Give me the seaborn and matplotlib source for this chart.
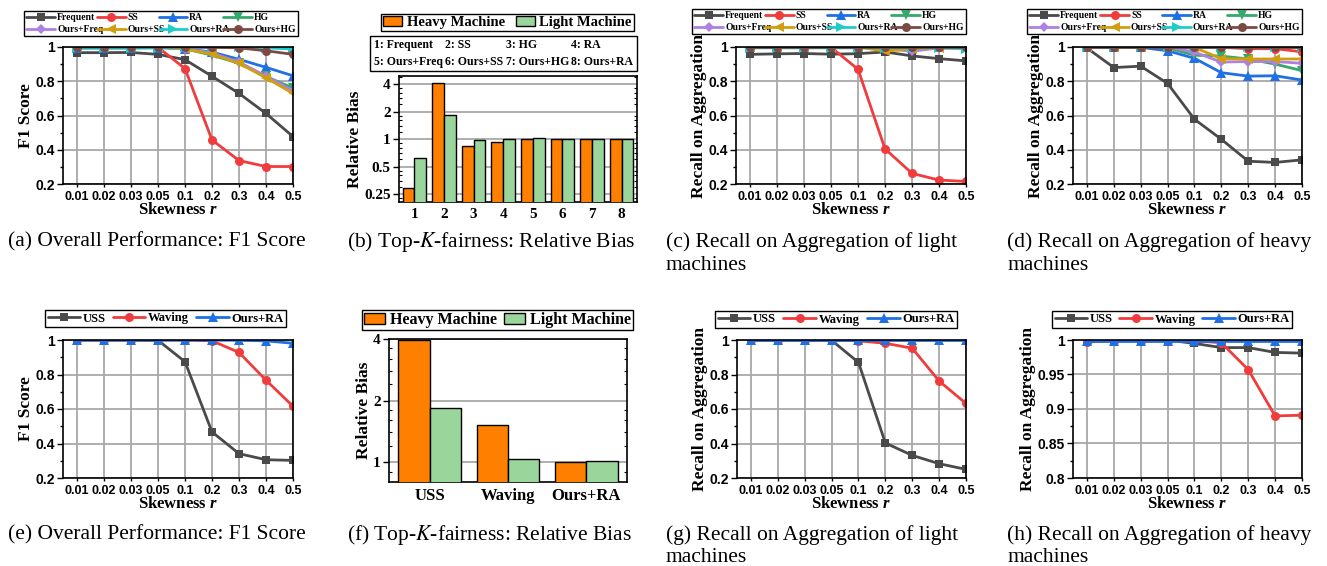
import numpy as np
import pandas as pd
import seaborn as sns
import matplotlib
matplotlib.use("Agg")
import matplotlib.pyplot as plt
from matplotlib.patches import Patch
from matplotlib.ticker import FixedLocator, MultipleLocator, NullFormatter

# ---------------- data ----------------
skew = ['0.01', '0.02', '0.03', '0.05', '0.1', '0.2', '0.3', '0.4', '0.5']

# (a) F1 score
freq_f1 = [0.967, 0.967, 0.968, 0.957, 0.926, 0.829, 0.729, 0.612, 0.477]
ss_f1 = [1.0, 1.0, 1.0, 0.998, 0.874, 0.457, 0.337, 0.302, 0.302]
ra_f1 = [0.995, 0.995, 0.995, 0.996, 0.99, 0.97, 0.928, 0.881, 0.832]
hg_f1 = [0.999, 0.999, 0.999, 0.999, 0.99, 0.952, 0.905, 0.828, 0.760]
ofreq_f1 = [1.0, 1.0, 1.0, 1.0, 0.99, 0.965, 0.912, 0.830, 0.745]
oss_f1 = [1.0, 1.0, 1.0, 1.0, 0.988, 0.958, 0.905, 0.820, 0.729]
ora_f1 = [0.993, 0.993, 0.993, 0.995, 0.998, 0.998, 0.998, 0.995, 0.988]
ohg_f1 = [1.0, 1.0, 1.0, 1.0, 1.0, 0.998, 0.995, 0.978, 0.957]

# (c) recall, light machines
freq_rl = [0.957, 0.960, 0.962, 0.958, 0.961, 0.971, 0.948, 0.932, 0.919]
ss_rl = [1.0, 1.0, 1.0, 0.998, 0.870, 0.405, 0.262, 0.223, 0.215]
ra_rl = [0.998, 0.998, 0.998, 0.998, 0.998, 0.998, 0.998, 0.998, 0.998]
hg_rl = [0.999, 0.999, 0.999, 0.999, 0.999, 0.999, 0.999, 0.999, 0.999]
ofreq_rl = [1.0, 1.0, 1.0, 1.0, 1.0, 0.99, 0.975, 0.995, 0.995]
oss_rl = [1.0, 1.0, 1.0, 1.0, 1.0, 0.975, 0.99, 0.995, 0.995]
ora_rl = [0.995, 0.995, 0.995, 0.995, 0.995, 0.995, 0.995, 0.995, 0.99]
ohg_rl = [1.0, 1.0, 1.0, 1.0, 1.0, 1.0, 1.0, 1.0, 1.0]

# (d) recall, heavy machines
freq_rh = [0.994, 0.880, 0.888, 0.787, 0.578, 0.461, 0.333, 0.326, 0.341]
ss_rh = [1.0, 1.0, 1.0, 1.0, 1.0, 0.998, 0.99, 0.99, 0.972]
ra_rh = [0.998, 0.998, 0.998, 0.978, 0.934, 0.850, 0.830, 0.832, 0.807]
hg_rh = [0.998, 0.998, 0.998, 0.995, 0.952, 0.947, 0.930, 0.900, 0.862]
ofreq_rh = [1.0, 1.0, 1.0, 1.0, 0.97, 0.912, 0.915, 0.915, 0.905]
oss_rh = [1.0, 1.0, 1.0, 1.0, 0.997, 0.932, 0.930, 0.930, 0.930]
ora_rh = [0.998, 0.998, 0.998, 0.998, 0.998, 0.998, 0.998, 0.998, 0.998]
ohg_rh = [1.0, 1.0, 1.0, 1.0, 1.0, 1.0, 1.0, 1.0, 1.0]

# (b) relative bias
bias_cats = ['1', '2', '3', '4', '5', '6', '7', '8']
heavy_b = [0.29, 4.1, 0.85, 0.94, 1.0, 1.01, 1.0, 1.0]
light_b = [0.62, 1.82, 0.98, 0.99, 1.04, 1.01, 1.01, 1.01]
bias_names = ['1: Frequent', '2: SS', '3: HG', '4: RA',
              '5: Ours+Freq', '6: Ours+SS', '7: Ours+HG', '8: Ours+RA']

# (e) F1 score, second set
uss_f1 = [1.0, 1.0, 1.0, 0.998, 0.874, 0.467, 0.341, 0.306, 0.302]
wav_f1 = [1.0, 1.0, 1.0, 1.0, 1.0, 0.995, 0.928, 0.767, 0.616]
ora2_f1 = [0.999, 0.999, 0.999, 0.999, 0.999, 0.999, 0.998, 0.995, 0.981]

# (f) relative bias, second set
bias2_cats = ['USS', 'Waving', 'Ours+RA']
heavy_b2 = [3.95, 1.52, 1.0]
light_b2 = [1.83, 1.04, 1.01]

# (g) recall light, second set
uss_rl = [1.0, 1.0, 1.0, 0.998, 0.870, 0.403, 0.331, 0.283, 0.250]
wav_rl = [1.0, 1.0, 1.0, 1.0, 0.995, 0.981, 0.952, 0.762, 0.632]
ora2_rl = [0.999, 0.999, 0.999, 0.999, 0.999, 0.999, 0.999, 0.999, 0.999]

# (h) recall heavy, second set
uss_rh = [0.998, 1.0, 1.0, 1.0, 0.995, 0.989, 0.989, 0.982, 0.981]
wav_rh = [0.997, 0.999, 0.999, 0.999, 0.999, 0.996, 0.957, 0.890, 0.891]
ora2_rh = [0.9985, 0.9985, 0.9985, 0.9985, 0.9985, 0.9985, 0.9985, 0.9985, 0.9985]

# ---------------- style ----------------
C_FREQ = '#4a4a4a'
C_SS = '#f03c3c'
C_RA = '#1f6fe5'
C_HG = '#35a86c'
C_OFREQ = '#b07fe2'
C_OSS = '#d19e0c'
C_ORA = '#1fcccc'
C_OHG = '#7b4a44'
C_HEAVY = '#ff8000'
C_LIGHT = '#9ad59b'

sns.set_theme(style='ticks')
plt.rcParams.update({
    'font.family': ['Liberation Serif', 'DejaVu Serif'],
    'mathtext.fontset': 'custom',
    'mathtext.it': 'Liberation Serif:italic:bold',
    'mathtext.rm': 'Liberation Serif:bold',
    'mathtext.bf': 'Liberation Serif:bold',
    'axes.edgecolor': 'black',
    'axes.labelcolor': 'black',
    'text.color': 'black',
    'xtick.color': 'black',
    'ytick.color': 'black',
    'axes.facecolor': 'white',
    'figure.facecolor': 'white',
})

W, H = 1327, 566
fig = plt.figure(figsize=(W / 100, H / 100), dpi=100)


def rect(l, r, t, b):
    return [l / W, 1 - b / H, (r - l) / W, (b - t) / H]


GRID = '#a8a8a8'


def frame(ax):
    for s in ax.spines.values():
        s.set_visible(True)
        s.set_color('black')
        s.set_linewidth(1.2)


def line_panel(ax, series, ylim, major, minor_step, ylabel, ylabelpad=1):
    xpos = np.arange(len(skew))
    handles = []
    for name, vals, color, marker, ms in series:
        sns.lineplot(x=xpos, y=vals, ax=ax, color=color, marker=marker,
                     markersize=ms, linewidth=2.0, markeredgewidth=0,
                     legend=False)
        h = ax.lines[-1]
        h.set_label(name)
        handles.append(h)
    ax.set_xlim(-0.52, len(skew) - 1)
    ax.set_ylim(*ylim)
    ax.set_xticks(xpos, labels=skew, fontfamily='Liberation Sans',
                  fontweight='bold', fontsize=9)
    ax.set_yticks(major, labels=[f'{v:g}' for v in major],
                  fontfamily='Liberation Sans', fontweight='bold', fontsize=10)
    ax.yaxis.set_minor_locator(MultipleLocator(minor_step))
    ax.yaxis.set_minor_formatter(NullFormatter())
    ax.grid(True, which='major', axis='both', color=GRID, lw=1.3)
    ax.set_axisbelow(True)
    frame(ax)
    ax.tick_params(axis='y', which='major', direction='out', length=4, width=1, pad=2)
    ax.tick_params(axis='y', which='minor', direction='out', length=2.5, width=1, left=True)
    ax.tick_params(axis='x', which='major', direction='out', length=2, width=1, pad=3)
    ax.set_xlabel('Skewness $r$', fontsize=12, fontweight='bold', labelpad=-1,
                  math_fontfamily='custom')
    ax.set_ylabel(ylabel, fontsize=12.5, fontweight='bold', labelpad=ylabelpad)
    return handles


def legend_box(handles, labels, box, ncol, fontsize, **kw):
    l, r, t, b = box
    bb = (l / W, 1 - b / H, (r - l) / W, (b - t) / H)
    opts = dict(loc='center', bbox_to_anchor=bb, bbox_transform=fig.transFigure,
                mode='expand', ncol=ncol, frameon=True, fancybox=False,
                edgecolor='black', framealpha=1, borderaxespad=0,
                prop={'family': 'Liberation Serif', 'weight': 'bold', 'size': fontsize})
    opts.update(kw)
    leg = fig.legend(handles, labels, **opts)
    leg.get_frame().set_linewidth(1.0)
    return leg


def rowmajor(items, ncol):
    nrow = int(np.ceil(len(items) / ncol))
    return [items[r * ncol + c] for c in range(ncol) for r in range(nrow)]


def bar_panel(ax, cats, heavy, light, ylim, major, ylabel, xfs):
    df = pd.DataFrame({
        'cat': cats + cats,
        'group': ['Heavy Machine'] * len(cats) + ['Light Machine'] * len(cats),
        'value': list(heavy) + list(light),
    })
    sns.barplot(data=df, x='cat', y='value', hue='group',
                palette=[C_HEAVY, C_LIGHT], edgecolor='black', linewidth=1.0,
                saturation=1, ax=ax, legend=False, zorder=3)
    ax.set_yscale('log', base=2)
    ax.set_ylim(*ylim)
    ax.set_yticks(major, labels=[f'{v:g}' for v in major],
                  fontfamily='Liberation Serif', fontweight='bold', fontsize=11)
    mins = [2.0 ** k * s for k in range(-4, 4) for s in (1.2, 1.4, 1.6, 1.8)]
    mins = [m for m in mins if ylim[0] < m < ylim[1]]
    ax.yaxis.set_minor_locator(FixedLocator(mins))
    ax.yaxis.set_minor_formatter(NullFormatter())
    ax.set_xticks(range(len(cats)), labels=cats, fontfamily='Liberation Serif',
                  fontweight='bold', fontsize=xfs)
    ax.set_xlim(-0.52, len(cats) - 0.48)
    ax.grid(True, which='major', axis='y', color=GRID, lw=1.3)
    ax.grid(False, axis='x')
    ax.set_axisbelow(True)
    frame(ax)
    ax.tick_params(axis='y', which='major', direction='out', length=4, width=1, pad=2)
    ax.tick_params(axis='y', which='minor', direction='in', length=2, width=0.8,
                   left=True, right=True)
    ax.tick_params(axis='x', which='major', length=0, pad=4)
    ax.set_xlabel('')
    ax.set_ylabel(ylabel, fontsize=12.5, fontweight='bold', labelpad=1)


top_series = lambda f, s, r, h, of, os_, orr, oh: [
    ('Frequent', f, C_FREQ, 's', 5.5),
    ('SS', s, C_SS, 'o', 6.5),
    ('RA', r, C_RA, '^', 6.5),
    ('HG', h, C_HG, 'v', 6.5),
    ('Ours+Freq', of, C_OFREQ, 'D', 5.5),
    ('Ours+SS', os_, C_OSS, '<', 6.5),
    ('Ours+RA', orr, C_ORA, '>', 6.5),
    ('Ours+HG', oh, C_OHG, 'o', 6.5),
]

major02 = [0.2, 0.4, 0.6, 0.8, 1.0]

# (a)
ax_a = fig.add_axes(rect(63, 293, 47, 184))
hs = line_panel(ax_a, top_series(freq_f1, ss_f1, ra_f1, hg_f1, ofreq_f1, oss_f1, ora_f1, ohg_f1),
                (0.2, 1.0), major02, 0.1, 'F1 Score')
legend_box(rowmajor(hs, 4), rowmajor([h.get_label() for h in hs], 4), (24, 298, 9, 38), 4, 6.9,
           handlelength=3.0, handletextpad=0.2, labelspacing=0.3, borderpad=0.25, columnspacing=0.5)

# (c)
ax_c = fig.add_axes(rect(736, 966, 47, 184))
hs = line_panel(ax_c, top_series(freq_rl, ss_rl, ra_rl, hg_rl, ofreq_rl, oss_rl, ora_rl, ohg_rl),
                (0.2, 1.0), major02, 0.1, 'Recall on Aggregation')
legend_box(rowmajor(hs, 4), rowmajor([h.get_label() for h in hs], 4), (692, 966, 7, 36), 4, 6.9,
           handlelength=3.0, handletextpad=0.2, labelspacing=0.3, borderpad=0.25, columnspacing=0.5)

# (d)
ax_d = fig.add_axes(rect(1073, 1302, 47, 184))
hs = line_panel(ax_d, top_series(freq_rh, ss_rh, ra_rh, hg_rh, ofreq_rh, oss_rh, ora_rh, ohg_rh),
                (0.2, 1.0), major02, 0.1, 'Recall on Aggregation')
legend_box(rowmajor(hs, 4), rowmajor([h.get_label() for h in hs], 4), (1027, 1302, 7, 36), 4, 6.9,
           handlelength=3.0, handletextpad=0.2, labelspacing=0.3, borderpad=0.25, columnspacing=0.5)

# (b)
ax_b = fig.add_axes(rect(399, 637, 76, 202))
bar_panel(ax_b, bias_cats, heavy_b, light_b, (0.205, 4.9), [0.25, 0.5, 1, 2, 4],
          'Relative Bias', 11)
ph = [Patch(facecolor=C_HEAVY, edgecolor='black', lw=1), Patch(facecolor=C_LIGHT, edgecolor='black', lw=1)]
legend_box(ph, ['Heavy Machine', 'Light Machine'], (381, 634, 13, 32), 2, 10.5,
           handlelength=1.3, handleheight=0.65, handletextpad=0.3, borderpad=0.15, columnspacing=1.0)
blank = [Patch(visible=False) for _ in bias_names]
legend_box(rowmajor(blank, 4), rowmajor(bias_names, 4), (370, 637, 37, 70), 4, 8.5,
           handlelength=0, handletextpad=0, labelspacing=0.35, borderpad=0.3, columnspacing=0.3)

bottom_series = lambda u, w, o: [
    ('USS', u, C_FREQ, 's', 5.5),
    ('Waving', w, C_SS, 'o', 6.5),
    ('Ours+RA', o, C_RA, '^', 6.5),
]

# (e)
ax_e = fig.add_axes(rect(63, 293, 340, 478))
hs = line_panel(ax_e, bottom_series(uss_f1, wav_f1, ora2_f1), (0.2, 1.0), major02, 0.1, 'F1 Score')
legend_box(hs, [h.get_label() for h in hs], (45, 286, 310, 327), 3, 9,
           handlelength=2.6, handletextpad=0.2, borderpad=0.2, columnspacing=0.8)

# (f)
ax_f = fig.add_axes(rect(389, 627, 339, 482))
bar_panel(ax_f, bias2_cats, heavy_b2, light_b2, (0.8, 4.0), [1, 2, 4], 'Relative Bias', 12)
legend_box(ph, ['Heavy Machine', 'Light Machine'], (362, 633, 310, 330), 2, 11.5,
           handlelength=1.3, handleheight=0.65, handletextpad=0.3, borderpad=0.15, columnspacing=1.0)

# (g)
ax_g = fig.add_axes(rect(737, 966, 340, 478))
hs = line_panel(ax_g, bottom_series(uss_rl, wav_rl, ora2_rl), (0.2, 1.0), major02, 0.1,
                'Recall on Aggregation')
legend_box(hs, [h.get_label() for h in hs], (715, 957, 312, 327), 3, 9,
           handlelength=2.6, handletextpad=0.2, borderpad=0.2, columnspacing=0.8)

# (h)
ax_h = fig.add_axes(rect(1073, 1302, 340, 478))
hs = line_panel(ax_h, bottom_series(uss_rh, wav_rh, ora2_rh), (0.8, 1.0),
                [0.8, 0.85, 0.9, 0.95, 1.0], 0.025, 'Recall on Aggregation')
legend_box(hs, [h.get_label() for h in hs], (1052, 1292, 312, 327), 3, 9,
           handlelength=2.6, handletextpad=0.2, borderpad=0.2, columnspacing=0.8)

# ---------------- captions ----------------
CAP = dict(fontsize=15.5, family='Liberation Serif', va='center', ha='left',
           math_fontfamily='stix')


def caption(x, y, s):
    fig.text(x / W, 1 - y / H, s, **CAP)


caption(8, 242, '(a) Overall Performance: F1 Score')
caption(347, 242, '(b) Top-$K$-fairness: Relative Bias')
caption(666, 242, '(c) Recall on Aggregation of light')
caption(666, 266, 'machines')
caption(1007, 242, '(d) Recall on Aggregation of heavy')
caption(1007, 266, 'machines')
caption(8, 535, '(e) Overall Performance: F1 Score')
caption(347, 535, '(f) Top-$K$-fairness: Relative Bias')
caption(666, 535, '(g) Recall on Aggregation of light')
caption(666, 558, 'machines')
caption(1007, 535, '(h) Recall on Aggregation of heavy')
caption(1007, 558, 'machines')

fig.savefig('out.png', dpi=100)
